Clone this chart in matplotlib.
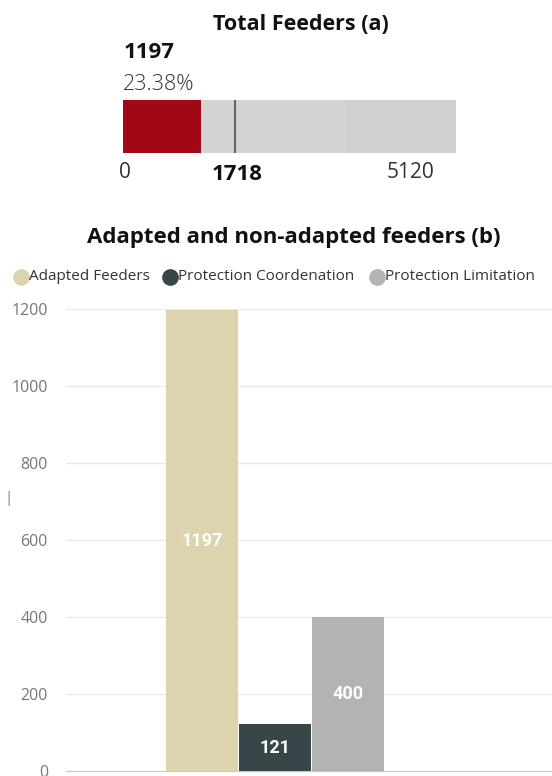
import matplotlib
matplotlib.use("Agg")
import matplotlib.pyplot as plt

# ---- data ----
gauge_value = 1197
gauge_target = 1718
gauge_max = 5120
gauge_band = 3413
gauge_pct = "23.38%"

categories = ["Adapted Feeders", "Protection Coordenation", "Protection Limitation"]
values = [1197, 121, 400]
colors = ["#ddd3ae", "#374649", "#b3b3b3"]
yticks = [0, 200, 400, 600, 800, 1000, 1200]

W, H = 552, 776
fig = plt.figure(figsize=(W / 100, H / 100), dpi=100)
plt.rcParams['font.family'] = ['Open Sans', 'DejaVu Sans']

def px_axes(x0, y0, x1, y1):
    return fig.add_axes([x0 / W, 1 - y1 / H, (x1 - x0) / W, (y1 - y0) / H])

def ftext(x, y, s, **kw):
    fig.text(x / W, 1 - y / H, s, **kw)

# ---- gauge (a) ----
ftext(301, 25, "Total Feeders (a)", ha="center", va="center",
      fontsize=15.5, fontweight="bold", color="#111111")
axg = px_axes(123, 100, 456, 153)
axg.barh(0, gauge_max, height=1, left=0, color="#d4d4d4", align="edge")
axg.barh(0, gauge_max - gauge_band, height=1, left=gauge_band, color="#d1d1d1", align="edge")
axg.barh(0, gauge_value, height=1, left=0, color="#a00818", align="edge")
axg.plot([gauge_target, gauge_target], [0, 1], color="#666666", lw=1.5)
axg.set_xlim(0, gauge_max)
axg.set_ylim(0, 1)
axg.axis("off")
ftext(124, 52, f"{gauge_value}", ha="left", va="center",
      fontsize=16, fontweight="bold", color="#111111")
ftext(123, 85, gauge_pct, ha="left", va="center",
      fontsize=15.5, color="#333333", fontweight="light")
ftext(125, 172, "0", ha="center", va="center", fontsize=15, color="#333333")
ftext(237, 175, f"{gauge_target}", ha="center", va="center",
      fontsize=16, fontweight="bold", color="#111111")
ftext(434, 172, f"{gauge_max}", ha="right", va="center", fontsize=15, color="#333333")

# ---- bar chart (b) ----
ftext(294, 237, "Adapted and non-adapted feeders (b)", ha="center", va="center",
      fontsize=16, fontweight="bold", color="#111111")

ax = px_axes(66, 309, 552, 771)
bw = 1.0
offsets = [-1, 0, 1]
for off, v, c, name in zip(offsets, values, colors, categories):
    ax.bar(off * bw, v, width=bw * 0.985, color=c, label=name, zorder=3)
    ax.text(off * bw, v / 2, f"{v}", ha="center", va="center", color="white",
            fontsize=13, fontweight="bold", family=["Roboto", "DejaVu Sans"], zorder=4)
left_units = (275 - 66) / 73.0
total_units = (552 - 66) / 73.0
ax.set_xlim(-left_units, total_units - left_units)
ax.set_ylim(0, 1200)
ax.set_yticks(yticks)
ax.set_yticklabels([str(t) for t in yticks], color="#777777", fontsize=11.5)
ax.tick_params(axis="y", length=0, pad=13)
ax.set_xticks([])
ax.grid(axis="y", color="#e9e9e9", lw=1, zorder=0)
for s in ["top", "right", "left"]:
    ax.spines[s].set_visible(False)
ax.spines["bottom"].set_color("#c8c8c8")
ax.set_axisbelow(True)

# ---- legend (manual, pixel placement) ----
axl = fig.add_axes([0, 0, 1, 1], zorder=-1)
axl.set_xlim(0, W)
axl.set_ylim(H, 0)
axl.axis("off")
leg_marker_x = [21, 170, 377]
leg_text_x = [29, 178, 385]
for mx, tx, c, name in zip(leg_marker_x, leg_text_x, colors, categories):
    axl.plot(mx, 277, marker="o", ls="", markersize=11, markerfacecolor=c, markeredgecolor=c)
    axl.text(tx, 277, name, ha="left", va="center", fontsize=11, color="#333333")

ftext(9, 498, "|", ha="center", va="center", fontsize=11, color="#777777")

fig.savefig("out.png", dpi=100, facecolor="white")
